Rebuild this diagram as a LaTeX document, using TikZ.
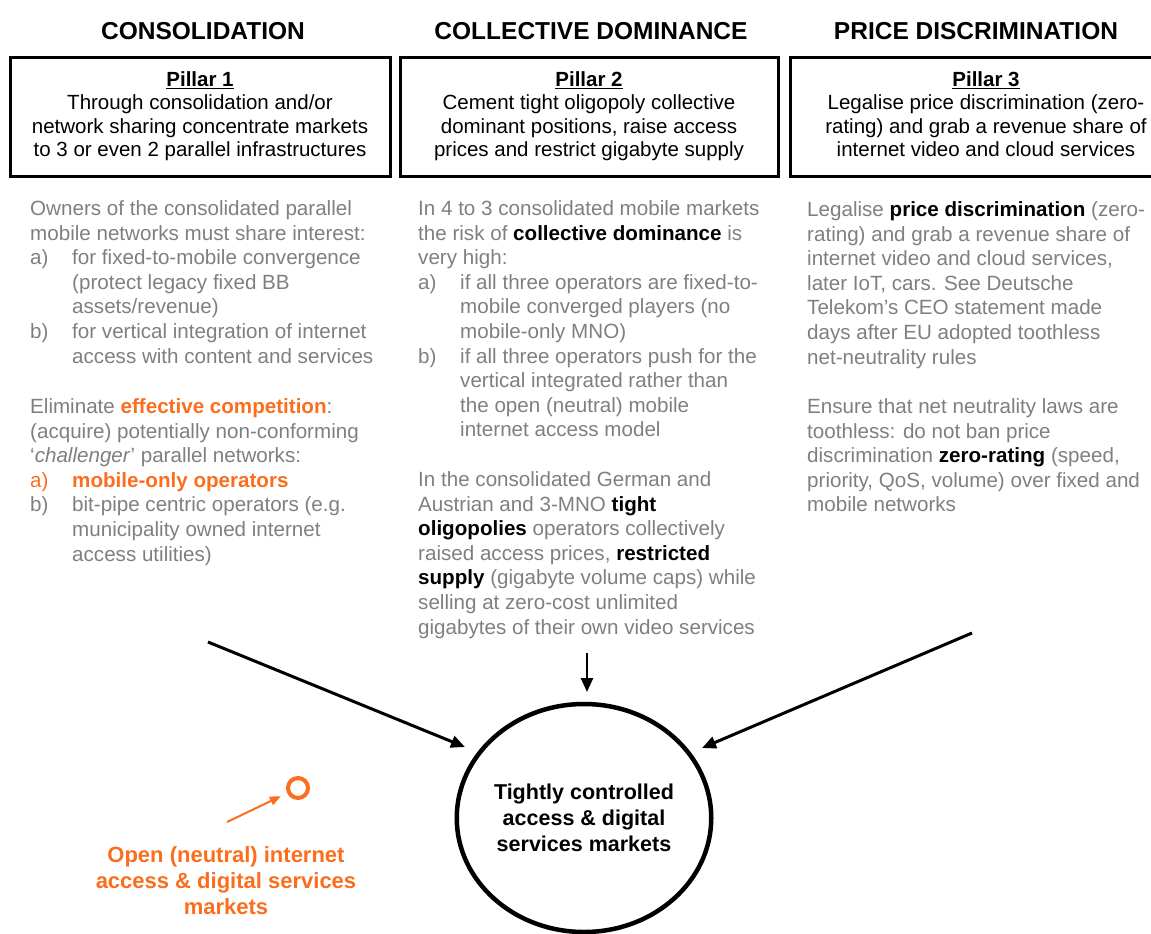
\documentclass[tikz,border=0pt]{standalone}
\usepackage{fontspec}
\setmainfont{Liberation Sans}
\usetikzlibrary{arrows.meta,shapes.geometric}
\definecolor{bodygray}{RGB}{127,127,127}
\definecolor{accent}{RGB}{250,110,30}
% hanging list label and continuation indent
\newcommand{\itemlbl}[1]{\makebox[42pt][l]{#1}}
\newcommand{\itemcont}{\hspace*{42pt}}
\begin{document}
\begin{tikzpicture}[x=1pt,y=-1pt,
  heading/.style={font=\fontsize{24.5}{28}\selectfont\bfseries, inner sep=0, anchor=base},
  pillarbox/.style={draw, line width=3pt, minimum height=118pt, align=center,
    font=\fontsize{20.5}{23.5}\selectfont, inner sep=0},
  body/.style={font=\fontsize{20.6}{24.6}\selectfont, text=bodygray, align=left,
    inner sep=0, anchor=north west},
  flow/.style={line width=3pt, -{Triangle[length=14pt,width=12pt]}},
  hub/.style={draw, ellipse, line width=4.5pt, minimum width=252pt, minimum height=228pt,
    align=center, font=\fontsize{21.5}{26}\selectfont\bfseries, inner sep=0},
  openlabel/.style={text=accent, align=center, font=\fontsize{22}{26}\selectfont\bfseries, inner sep=0}
]
\useasboundingbox (0,0) rectangle (1151,934);

% column headings
\node[heading] (t1) at (203,40) {CONSOLIDATION};
\node[heading] (t2) at (591,40) {COLLECTIVE DOMINANCE};
\node[heading] (t3) at (976,40) {PRICE DISCRIMINATION};

% pillar boxes (the third one runs past the right margin)
\node[pillarbox, minimum width=380pt] (p1) at (200,117)
  {\strut\textbf{\underline{Pillar 1}}\\Through consolidation and/or\\network sharing concentrate markets\\to 3 or even 2 parallel infrastructures\strut};
\node[pillarbox, minimum width=378pt] (p2) at (589,117)
  {\strut\textbf{\underline{Pillar 2}}\\Cement tight oligopoly collective\\dominant positions, raise access\\prices and restrict gigabyte supply\strut};
\node[pillarbox, minimum width=392pt] (p3) at (986,117)
  {\strut\textbf{\underline{Pillar 3}}\\Legalise price discrimination (zero-\\rating) and grab a revenue share of\\internet video and cloud services\strut};

% column 1
\node[body] (c1a) at (30,198)
  {\strut Owners of the consolidated parallel\\
   mobile networks must share interest:\\
   \itemlbl{a)}for fixed-to-mobile convergence\\
   \itemcont(protect legacy fixed BB\\
   \itemcont assets/revenue)\\
   \itemlbl{b)}for vertical integration of internet\\
   \itemcont access with content and services};
\node[body] (c1b) at (30,396)
  {\strut Eliminate \textcolor{accent}{\bfseries effective competition}:\\
   (acquire) potentially non-conforming\\
   `\textit{challenger}' parallel networks:\\
   \textcolor{accent}{\itemlbl{a)}\bfseries mobile-only operators}\\
   \itemlbl{b)}bit-pipe centric operators (e.g.\\
   \itemcont municipality owned internet\\
   \itemcont access utilities)};

% column 2
\node[body] (c2a) at (418,198)
  {\strut In 4 to 3 consolidated mobile markets\\
   the risk of \textcolor{black}{\bfseries collective dominance} is\\
   very high:\\
   \itemlbl{a)}if all three operators are fixed-to-\\
   \itemcont mobile converged players (no\\
   \itemcont mobile-only MNO)\\
   \itemlbl{b)}if all three operators push for the\\
   \itemcont vertical integrated rather than\\
   \itemcont the open (neutral) mobile\\
   \itemcont internet access model};
\node[body] (c2b) at (418,469)
  {\strut In the consolidated German and\\
   Austrian and 3-MNO \textcolor{black}{\bfseries tight}\\
   \textcolor{black}{\bfseries oligopolies} operators collectively\\
   raised access prices, \textcolor{black}{\bfseries restricted}\\
   \textcolor{black}{\bfseries supply} (gigabyte volume caps) while\\
   selling at zero-cost unlimited\\
   gigabytes of their own video services};

% column 3
\node[body] (c3a) at (807,199)
  {\strut Legalise \textcolor{black}{\bfseries price discrimination} (zero-\\
   rating) and grab a revenue share of\\
   internet video and cloud services,\\
   later IoT, cars. See Deutsche\\
   Telekom's CEO statement made\\
   days after EU adopted toothless\\
   net-neutrality rules};
\node[body] (c3b) at (807,396)
  {\strut Ensure that net neutrality laws are\\
   toothless: do not ban price\\
   discrimination \textcolor{black}{\bfseries zero-rating} (speed,\\
   priority, QoS, volume) over fixed and\\
   mobile networks};

% target market
\node[hub] (hub) at (584,818) {Tightly controlled\\access \& digital\\services markets};

% arrows into the target market
\coordinate (l0) at (208,642);
\coordinate (l1) at (465,747);
\coordinate (m0) at (587,653);
\coordinate (m1) at (587,692);
\coordinate (r0) at (972,633);
\coordinate (r1) at (702,748);
\draw[flow] (l0) -- (l1);
\draw[flow, line width=2.5pt] (m0) -- (m1);
\draw[flow] (r0) -- (r1);

% open market marker
\node[draw=accent, circle, line width=4pt, minimum size=20pt, inner sep=0] (dot) at (298,788) {};
\coordinate (o0) at (227,822);
\draw[accent, line width=2pt, -{Triangle[length=11pt,width=9pt]}, shorten >=7pt] (o0) -- (dot);
\node[openlabel] (open) at (226,881) {Open (neutral) internet\\access \& digital services\\markets};
\end{tikzpicture}
\end{document}
